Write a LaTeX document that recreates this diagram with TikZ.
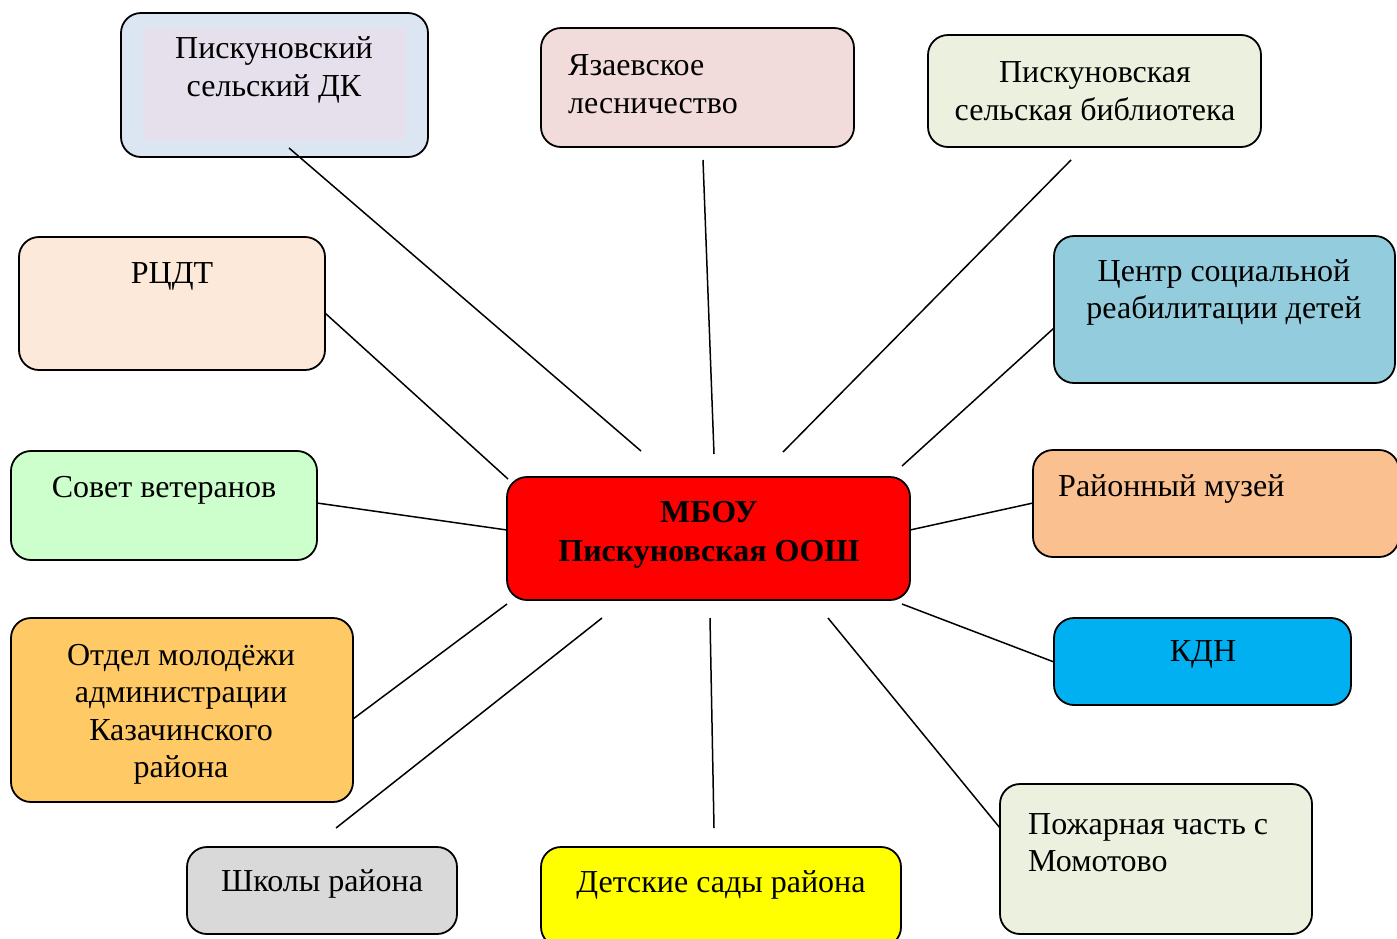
\documentclass[tikz,border=0pt]{standalone}
\usepackage{fontspec}
\setmainfont{Liberation Serif}
\definecolor{cDK}{HTML}{DCE6F2}
\definecolor{cDKin}{HTML}{E5E0EC}
\definecolor{cYaz}{HTML}{F2DCDB}
\definecolor{cBib}{HTML}{EBF1DE}
\definecolor{cCentr}{HTML}{93CDDD}
\definecolor{cMuz}{HTML}{FAC090}
\definecolor{cKdn}{HTML}{00B0F0}
\definecolor{cPozh}{HTML}{EBF1DE}
\definecolor{cDet}{HTML}{FFFF00}
\definecolor{cShk}{HTML}{D9D9D9}
\definecolor{cOtd}{HTML}{FFC966}
\definecolor{cSov}{HTML}{CCFFCC}
\definecolor{cRcdt}{HTML}{FDE9D9}
\definecolor{cMain}{HTML}{FF0000}
\begin{document}
\begin{tikzpicture}[x=1pt,y=-1pt,
  box/.style={draw=black, line width=1.8pt, rounded corners=20pt, inner sep=0pt},
  txt/.style={inner sep=0pt, font=\fontsize{32}{37.5}\selectfont, align=center},
  ltxt/.style={inner sep=0pt, font=\fontsize{32}{37.5}\selectfont, align=left, anchor=west},
  conn/.style={line width=1.5pt}]
\useasboundingbox (0,0) rectangle (1397,938);
% boxes
\node[box, fill=cDK, minimum width=307pt, minimum height=144pt] (dk) at (274.5,85) {};
\node[fill=cDKin, inner sep=0pt, minimum width=263pt, minimum height=112pt] (dkin) at (274.5,84) {};
\node[box, fill=cYaz, minimum width=313pt, minimum height=119pt] (yaz) at (697.5,87.5) {};
\node[box, fill=cBib, minimum width=333pt, minimum height=112pt] (bib) at (1094.5,91) {};
\node[box, fill=cCentr, minimum width=341pt, minimum height=147pt] (centr) at (1224.5,309.5) {};
\node[box, fill=cMuz, minimum width=366pt, minimum height=107pt] (muz) at (1216,503.5) {};
\node[box, fill=cKdn, minimum width=297pt, minimum height=87pt] (kdn) at (1202.5,661.5) {};
\node[box, fill=cPozh, minimum width=312pt, minimum height=150pt] (pozh) at (1156,859) {};
\node[box, fill=cDet, minimum width=360pt, minimum height=100pt] (det) at (721,897) {};
\node[box, fill=cShk, minimum width=270pt, minimum height=87pt] (shk) at (322,890.5) {};
\node[box, fill=cOtd, minimum width=342pt, minimum height=184pt] (otd) at (182,710) {};
\node[box, fill=cSov, minimum width=306pt, minimum height=109pt] (sov) at (164,505.5) {};
\node[box, fill=cRcdt, minimum width=306pt, minimum height=133pt] (rcdt) at (172,303.5) {};
\node[box, fill=cMain, minimum width=403pt, minimum height=123pt] (main) at (708.5,538.5) {};
% texts
\node[txt] (tdk) at (274,70) {Пискуновский\\сельский ДК};
\node[ltxt] (tyaz) at (568,84) {Язаевское\\лесничество};
\node[txt] (tbib) at (1095,91) {Пискуновская\\сельская библиотека};
\node[txt] (tcentr) at (1224,292.5) {Центр социальной\\реабилитации детей};
\node[ltxt] (tmuz) at (1058,489) {Районный музей};
\node[txt] (tkdn) at (1203,654) {КДН};
\node[ltxt] (tpozh) at (1028,842.5) {Пожарная часть с\\Момотово};
\node[txt] (tdet) at (721,885) {Детские сады района};
\node[txt] (tshk) at (322,884) {Школы района};
\node[txt] (totd) at (181,714.5) {Отдел молодёжи\\администрации\\Казачинского\\района};
\node[txt] (tsov) at (164,490) {Совет ветеранов};
\node[txt] (trcdt) at (172,276) {РЦДТ};
\node[txt, font=\fontsize{32}{39}\selectfont\bfseries] (tmain) at (709,534.5) {МБОУ\\Пискуновская ООШ};
% connector end points
\coordinate (e1a) at (289,148); \coordinate (e1b) at (641,451);
\coordinate (e2a) at (703,160); \coordinate (e2b) at (714,454);
\coordinate (e3a) at (1071,160); \coordinate (e3b) at (783,452);
\coordinate (e4a) at (1054,328); \coordinate (e4b) at (902,466);
\coordinate (e5a) at (1033,503); \coordinate (e5b) at (910,530);
\coordinate (e6a) at (1054,662); \coordinate (e6b) at (902,604);
\coordinate (e7a) at (1000,828); \coordinate (e7b) at (828,618);
\coordinate (e8a) at (714,828); \coordinate (e8b) at (710,618);
\coordinate (e9a) at (336,828); \coordinate (e9b) at (602,618);
\coordinate (e10a) at (353,719); \coordinate (e10b) at (507,604);
\coordinate (e11a) at (317,503); \coordinate (e11b) at (507,530);
\coordinate (e12a) at (325,313); \coordinate (e12b) at (508,479);
\foreach \i in {1,...,12} {\draw[conn] (e\i a) -- (e\i b);}
\end{tikzpicture}
\end{document}
